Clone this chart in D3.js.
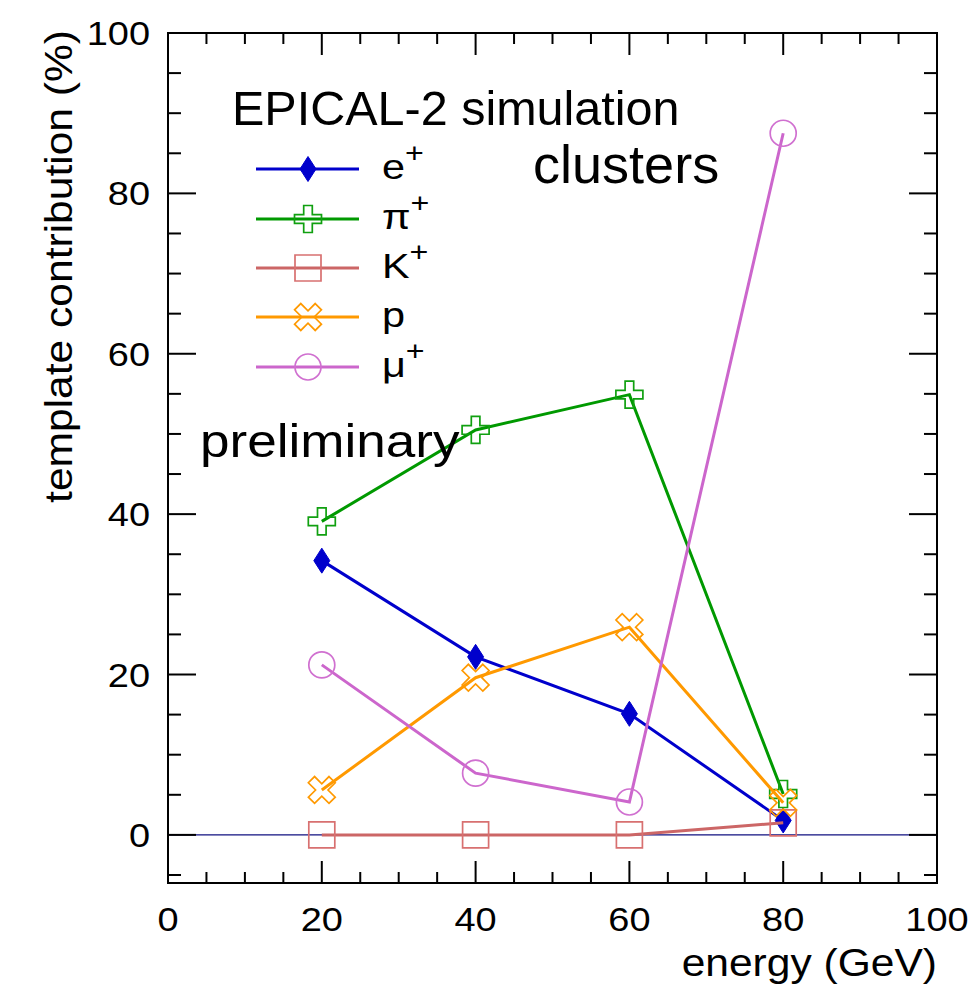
<!DOCTYPE html>
<html>
<head>
<meta charset="utf-8">
<script src="https://cdn.jsdelivr.net/npm/d3@7"></script>
<style>
  html, body { margin: 0; padding: 0; background: #fff; }
  svg { display: block; font-family: "Liberation Sans", Arial, Helvetica, sans-serif; }
</style>
</head>
<body>
<script>
// Beam energies (GeV)
const energies = [20, 40, 60, 80];

// Template contributions (%) per particle species
const ePlus  = [34.2, 22.2, 15.1, 1.8];
const piPlus = [39.1, 50.5, 54.9, 5.1];
const kPlus  = [0.0, 0.0, 0.0, 1.5];
const proton = [5.6, 19.6, 25.9, 4.0];
const muPlus = [21.2, 7.7, 4.1, 87.5];

const seriesNames = ["e", "π", "K", "p", "μ"];
const seriesSup   = ["+", "+", "+", "", "+"];

const xTickValues = [0, 20, 40, 60, 80, 100];
const yTickValues = [0, 20, 40, 60, 80, 100];

const W = 973, H = 991;
const frame = { left: 168, right: 937, top: 33, bottom: 883 };

const x = d3.scaleLinear().domain([0, 100]).range([frame.left, frame.right]);
const y = d3.scaleLinear().domain([-6, 100]).range([frame.bottom, frame.top]);

const svg = d3.select("body").append("svg")
  .attr("width", W).attr("height", H);

// Text helper with a horizontal stretch factor
function label(parent, str, px, py, size, sx, anchor, rotate) {
  const t = parent.append("text")
    .attr("transform", `translate(${px},${py})` + (rotate ? ` rotate(${rotate})` : "") + ` scale(${sx},1)`)
    .attr("font-size", size)
    .attr("text-anchor", anchor || "start")
    .attr("fill", "#000");
  t.text(str);
  return t;
}

// ---- zero reference line ----
svg.append("line")
  .attr("x1", x(0)).attr("x2", x(100))
  .attr("y1", y(0)).attr("y2", y(0))
  .attr("stroke", "#101080").attr("stroke-width", 1.3);

// ---- marker shapes ----
function crossPath(s, a) {
  return `M${-a},${-s}H${a}V${-a}H${s}V${a}H${a}V${s}H${-a}V${a}H${-s}V${-a}H${-a}Z`;
}
const markers = [
  // e+: filled diamond
  { d: "M0,-12.5L8,0L0,12.5L-8,0Z", fill: true, rot: 0 },
  // pi+: open cross
  { d: crossPath(13.5, 4.3), fill: false, rot: 0 },
  // K+: open square
  { d: "M-13,-13H13V13H-13Z", fill: false, rot: 0 },
  // p: open X
  { d: crossPath(14.6, 4.4), fill: false, rot: 45 },
  // mu+: open circle
  { d: null, fill: false, rot: 0, circle: true }
];

const lineColors   = ["#0000cc", "#009900", "#cc6666", "#ff9900", "#cc66cc"];
const markerColors = ["#0000cc", "#10a010", "#d87070", "#ff9900", "#d070d0"];
const seriesData   = [ePlus, piPlus, kPlus, proton, muPlus];

function drawMarker(g, i, cx, cy) {
  const m = markers[i];
  if (m.circle) {
    g.append("circle").attr("cx", cx).attr("cy", cy).attr("r", 13)
      .attr("fill", "none").attr("stroke", markerColors[i]).attr("stroke-width", 1.7);
    return;
  }
  g.append("path")
    .attr("d", m.d)
    .attr("transform", `translate(${cx},${cy}) rotate(${m.rot})`)
    .attr("fill", m.fill ? markerColors[i] : "none")
    .attr("stroke", markerColors[i])
    .attr("stroke-width", m.fill ? 1 : 1.7)
    .attr("stroke-linejoin", "miter");
}

// ---- series ----
const line = d3.line().x(d => x(d[0])).y(d => y(d[1]));
const plot = svg.append("g");
seriesData.forEach((vals, i) => {
  const pts = energies.map((e, k) => [e, vals[k]]);
  const g = plot.append("g");
  g.append("path")
    .attr("d", line(pts))
    .attr("fill", "none")
    .attr("stroke", lineColors[i])
    .attr("stroke-width", 3)
    .attr("stroke-linejoin", "miter");
  pts.forEach(p => drawMarker(g, i, x(p[0]), y(p[1])));
});

// ---- frame and ticks ----
const axes = svg.append("g").attr("stroke", "#000").attr("stroke-width", 2);
axes.append("rect")
  .attr("x", frame.left).attr("y", frame.top)
  .attr("width", frame.right - frame.left).attr("height", frame.bottom - frame.top)
  .attr("fill", "none");

const xMinor = d3.range(0, 101, 5);
xMinor.forEach(v => {
  const major = v % 20 === 0;
  const len = major ? 22 : 11;
  if (v === 0 || v === 100) return;
  axes.append("line").attr("x1", x(v)).attr("x2", x(v))
    .attr("y1", frame.bottom).attr("y2", frame.bottom - len);
  axes.append("line").attr("x1", x(v)).attr("x2", x(v))
    .attr("y1", frame.top).attr("y2", frame.top + len);
});
const yMinor = d3.range(-5, 101, 5);
yMinor.forEach(v => {
  const major = v % 20 === 0;
  const len = major ? 28 : 13;
  if (v === 100) return;
  axes.append("line").attr("x1", frame.left).attr("x2", frame.left + len)
    .attr("y1", y(v)).attr("y2", y(v));
  axes.append("line").attr("x1", frame.right).attr("x2", frame.right - len)
    .attr("y1", y(v)).attr("y2", y(v));
});

// ---- tick labels ----
const labels = svg.append("g");
xTickValues.forEach(v => label(labels, String(v), x(v), 931, 33, 1.15, "middle"));
yTickValues.forEach(v => label(labels, String(v), 150, y(v) + 12, 33, 1.15, "end"));

// ---- axis titles ----
label(labels, "energy (GeV)", 937, 976, 38, 1.12, "end");
label(labels, "template contribution (%)", 72, 30, 38, 1.12, "end", -90);

// ---- annotations ----
label(labels, "EPICAL-2 simulation", 232, 125, 49, 0.99, "start");
label(labels, "clusters", 533, 183, 53, 1.02, "start");
label(labels, "preliminary", 200, 457, 47, 1.13, "start");

// ---- legend ----
const legend = svg.append("g");
const rowY = [169, 219, 268, 317, 367];
seriesNames.forEach((name, i) => {
  const cy = rowY[i];
  legend.append("line")
    .attr("x1", 256).attr("x2", 359).attr("y1", cy).attr("y2", cy)
    .attr("stroke", lineColors[i]).attr("stroke-width", 3);
  drawMarker(legend, i, 308, cy);
  const t = label(legend, "", 382, cy + 10, 36, 1.15, "start");
  t.append("tspan").text(name);
  if (seriesSup[i]) {
    t.append("tspan").attr("font-size", 28).attr("dy", -17).text(seriesSup[i]);
  }
});
</script>
</body>
</html>
